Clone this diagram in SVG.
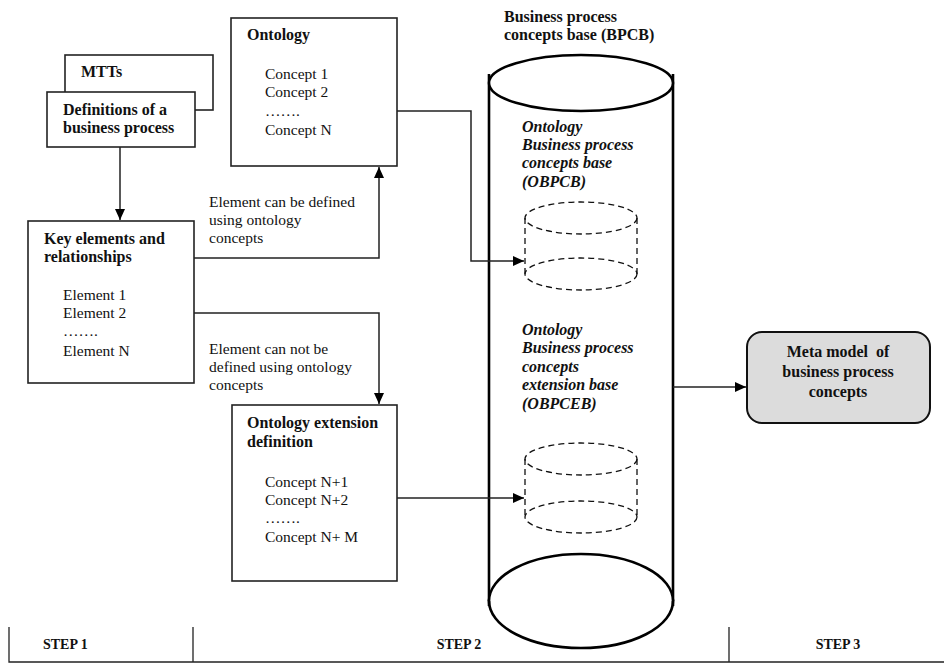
<svg xmlns="http://www.w3.org/2000/svg" width="944" height="664" viewBox="0 0 944 664">
<style>
  .box{fill:#fff;stroke:#222;stroke-width:1.6}
  .t{font-family:"Liberation Serif","Times New Roman",serif;font-size:15.5px;fill:#111}
  .b{font-family:"Liberation Serif","Times New Roman",serif;font-size:16px;font-weight:bold;fill:#111}
  .bi{font-family:"Liberation Serif","Times New Roman",serif;font-size:16px;font-weight:bold;font-style:italic;fill:#111}
  .conn{fill:none;stroke:#222;stroke-width:1.5}
  .big{fill:#fff;stroke:#000;stroke-width:2.6}
  .dash{fill:none;stroke:#111;stroke-width:1.3;stroke-dasharray:6,4}
  .step{font-family:"Liberation Serif","Times New Roman",serif;font-size:14px;font-weight:bold;fill:#111}
</style>
<defs>
  <marker id="arr" markerUnits="userSpaceOnUse" markerWidth="12" markerHeight="10" refX="11" refY="5" orient="auto">
    <path d="M0,0 L11,5 L0,10 z" fill="#000"/>
  </marker>
</defs>
<rect width="944" height="664" fill="#fff"/>

<g id="mtts">
  <rect class="box" x="65" y="55" width="148" height="55"/>
  <text class="b" x="81" y="77">MTTs</text>
</g>
<g id="definitions">
  <rect class="box" x="47" y="92" width="148" height="55"/>
  <text class="b" x="63" y="115">Definitions of a</text>
  <text class="b" x="63" y="133">business process</text>
</g>
<g id="ontology">
  <rect class="box" x="231" y="18" width="166" height="148"/>
  <text class="b" x="247" y="40">Ontology</text>
  <text class="t" x="265" y="79">Concept 1</text>
  <text class="t" x="265" y="97">Concept 2</text>
  <text class="t" x="265" y="116">…….</text>
  <text class="t" x="265" y="135">Concept N</text>
</g>
<g id="key-elements">
  <rect class="box" x="28" y="221" width="166" height="162"/>
  <text class="b" x="44" y="244">Key elements and</text>
  <text class="b" x="44" y="262">relationships</text>
  <text class="t" x="63" y="300">Element 1</text>
  <text class="t" x="63" y="318">Element 2</text>
  <text class="t" x="63" y="336">…….</text>
  <text class="t" x="63" y="356">Element N</text>
</g>
<g id="ontology-extension">
  <rect class="box" x="232" y="405" width="165" height="176"/>
  <text class="b" x="247" y="428">Ontology extension</text>
  <text class="b" x="247" y="447">definition</text>
  <text class="t" x="265" y="487">Concept N+1</text>
  <text class="t" x="265" y="505">Concept N+2</text>
  <text class="t" x="265" y="523">…….</text>
  <text class="t" x="265" y="542">Concept N+ M</text>
</g>
<g id="bpcb">
  <text class="b" x="504" y="22">Business process</text>
  <text class="b" x="504" y="40">concepts base (BPCB)</text>
  <ellipse class="big" cx="581" cy="601" rx="92" ry="47"/>
  <rect x="490" y="83" width="182" height="518" fill="#fff"/>
  <line class="big" x1="489" y1="74" x2="489" y2="606"/>
  <line class="big" x1="673" y1="74" x2="673" y2="606"/>
  <ellipse class="big" cx="581" cy="83" rx="92" ry="28"/>
  <path class="big" d="M489,601 A92,47 0 0 1 673,601" fill="none"/>
</g>
<g id="obpcb">
  <text class="bi" x="522" y="132">Ontology</text>
  <text class="bi" x="522" y="150">Business process</text>
  <text class="bi" x="522" y="168">concepts base</text>
  <text class="bi" x="522" y="187">(OBPCB)</text>
  <ellipse class="dash" cx="581" cy="218" rx="56" ry="16"/>
  <line class="dash" x1="525" y1="218" x2="525" y2="274"/>
  <line class="dash" x1="637" y1="218" x2="637" y2="274"/>
  <ellipse class="dash" cx="581" cy="274" rx="56" ry="16"/>
</g>
<g id="obpceb">
  <text class="bi" x="522" y="335">Ontology</text>
  <text class="bi" x="522" y="353">Business process</text>
  <text class="bi" x="522" y="372">concepts</text>
  <text class="bi" x="522" y="390">extension base</text>
  <text class="bi" x="522" y="409">(OBPCEB)</text>
  <ellipse class="dash" cx="581" cy="459" rx="56" ry="16"/>
  <line class="dash" x1="525" y1="459" x2="525" y2="517"/>
  <line class="dash" x1="637" y1="459" x2="637" y2="517"/>
  <ellipse class="dash" cx="581" cy="517" rx="56" ry="16"/>
</g>
<g id="meta-model">
  <rect x="747" y="332" width="183" height="91" rx="15" ry="15" fill="#dcdcdc" stroke="#111" stroke-width="2"/>
  <text class="b" x="838" y="357" text-anchor="middle">Meta model&#160; of</text>
  <text class="b" x="838" y="377" text-anchor="middle">business process</text>
  <text class="b" x="838" y="397" text-anchor="middle">concepts</text>
</g>

<g id="connectors">
  <path class="conn" d="M120,147 V220" marker-end="url(#arr)"/>
  <path class="conn" d="M194,258 H379 V167" marker-end="url(#arr)"/>
  <path class="conn" d="M194,313 H379 V404" marker-end="url(#arr)"/>
  <path class="conn" d="M397,111 H471 V261 H524" marker-end="url(#arr)"/>
  <path class="conn" d="M397,498 H524" marker-end="url(#arr)"/>
  <path class="conn" d="M673,387 H746" marker-end="url(#arr)"/>
</g>
<g id="connector-labels">
  <text class="t" x="209" y="207">Element can be defined</text>
  <text class="t" x="209" y="225">using ontology</text>
  <text class="t" x="209" y="243">concepts</text>
  <text class="t" x="209" y="354">Element can not be</text>
  <text class="t" x="209" y="372">defined using ontology</text>
  <text class="t" x="209" y="390">concepts</text>
</g>

<g id="steps">
  <path fill="none" stroke="#222" stroke-width="1.3" d="M9,627 V662 H944 M193,627 V662 M729,627 V662"/>
  <text class="step" x="43" y="649">STEP 1</text>
  <text class="step" x="459" y="649" text-anchor="middle">STEP 2</text>
  <text class="step" x="838" y="649" text-anchor="middle">STEP 3</text>
</g>
</svg>
